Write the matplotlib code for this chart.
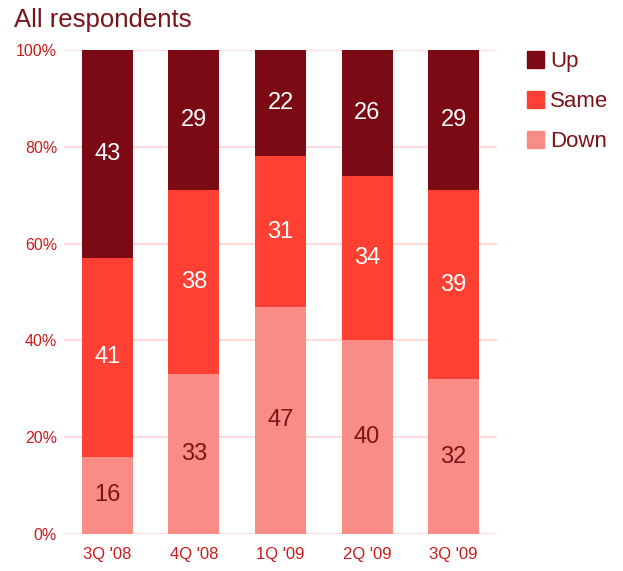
import matplotlib
matplotlib.use("Agg")
import matplotlib.pyplot as plt
from matplotlib.patches import Patch
import numpy as np

plt.rcParams['font.family'] = ['Liberation Sans', 'DejaVu Sans']

quarters = ["3Q '08", "4Q '08", "1Q '09", "2Q '09", "3Q '09"]
down = [16, 33, 47, 40, 32]
same = [41, 38, 31, 34, 39]
up = [43, 29, 22, 26, 29]

c_up = '#7B0A14'
c_same = '#FF4033'
c_down = '#FA8C86'
c_text = '#7B1418'
c_tick = '#CC1A1A'

fig = plt.figure(figsize=(6.23, 5.71), dpi=100)
ax = fig.add_axes([64/623, 37/571, 433/623, 484/571])

x = np.arange(len(quarters))
w = 0.59
down_a = np.array(down)
same_a = np.array(same)
up_a = np.array(up)

ax.bar(x, down_a, w, color=c_down, zorder=2)
ax.bar(x, same_a, w, bottom=down_a, color=c_same, zorder=2)
ax.bar(x, up_a, w, bottom=down_a + same_a, color=c_up, zorder=2)

for i in range(len(x)):
    ax.text(x[i], down_a[i] / 2, str(down[i]), ha='center', va='center',
            fontsize=17, color=c_text, zorder=3)
    ax.text(x[i], down_a[i] + same_a[i] / 2, str(same[i]), ha='center', va='center',
            fontsize=17, color='white', zorder=3)
    ax.text(x[i], down_a[i] + same_a[i] + up_a[i] / 2, str(up[i]), ha='center', va='center',
            fontsize=17, color='white', zorder=3)

ax.set_xlim(-0.5, len(x) - 0.5)
ax.set_ylim(0, 100)
ax.set_yticks([0, 20, 40, 60, 80, 100])
ax.set_yticklabels(['0%', '20%', '40%', '60%', '80%', '100%'])
ax.set_xticks(x)
ax.set_xticklabels(quarters)
ax.tick_params(axis='y', length=0, pad=5, labelsize=11.5, labelcolor=c_tick)
ax.tick_params(axis='x', length=0, pad=9, labelsize=12, labelcolor=c_tick)
ax.grid(axis='y', color='#FDDDDD', linewidth=1.6, zorder=0)
ax.set_axisbelow(True)
for s in ax.spines.values():
    s.set_visible(False)

fig.text(14/623, 1 - 27/571, 'All respondents', fontsize=18.5, color=c_text,
         ha='left', va='baseline')

handles = [Patch(color=c_up), Patch(color=c_same), Patch(color=c_down)]
leg = fig.legend(handles, ['Up', 'Same', 'Down'], loc='upper left',
                 bbox_to_anchor=(527/623, 1 - 51/571), frameon=False,
                 fontsize=16, handlelength=0.78, handleheight=0.78,
                 handletextpad=0.25, labelspacing=0.86, borderaxespad=0,
                 borderpad=0)
for t in leg.get_texts():
    t.set_color(c_text)

fig.savefig('out.png', dpi=100)
